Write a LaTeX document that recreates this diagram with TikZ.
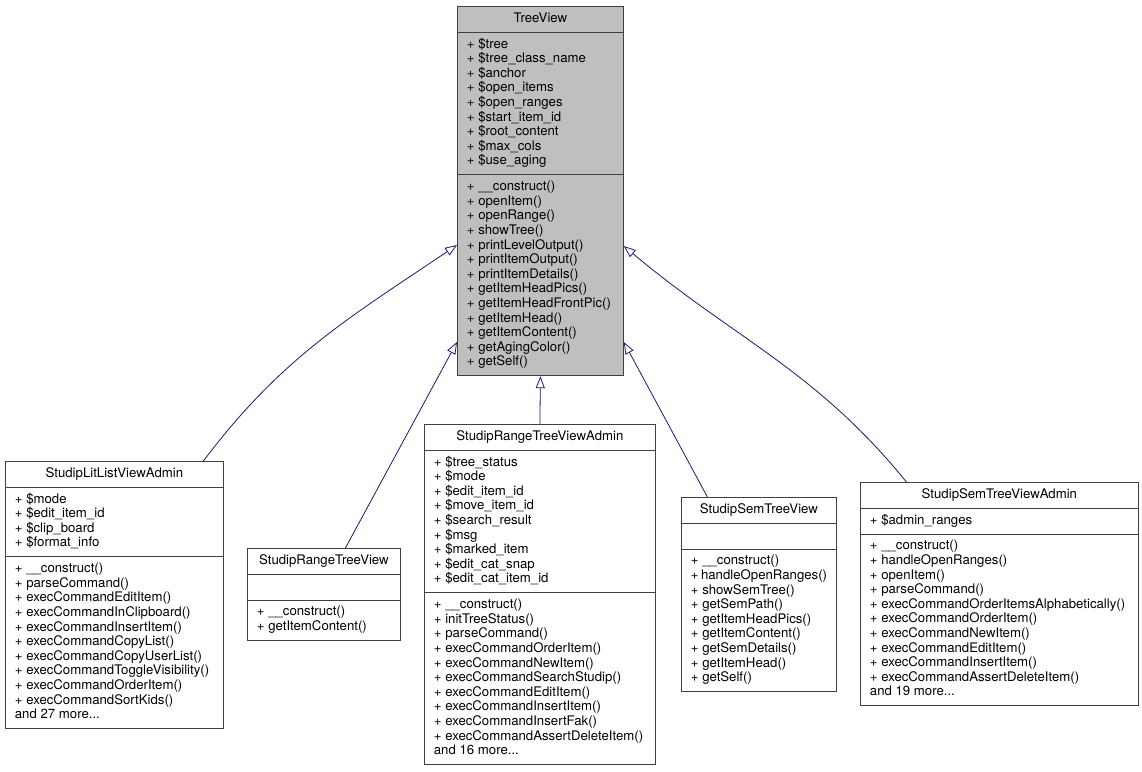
\documentclass[tikz,border=0pt]{standalone}
\usepackage{fontspec}
\setmainfont{TeX Gyre Heros}
\usetikzlibrary{shapes.multipart,arrows.meta}

\definecolor{edgeblue}{HTML}{191970}
\definecolor{basegray}{HTML}{BFBFBF}
\newcommand{\classtitle}[1]{\hbox to\hsize{\hfil\strut#1\hfil}}
\hyphenpenalty=10000
\exhyphenpenalty=10000

\begin{document}
\begin{tikzpicture}[x=1pt,y=-1pt,
        classbox/.style={rectangle split,rectangle split parts=3,draw=black!75,line width=0.8pt,
            anchor=north west,align=flush left,inner xsep=9.5pt,inner ysep=5.2pt,
            font=\fontsize{13.2}{14.6}\selectfont},
        baseclass/.style={classbox,fill=basegray},
        inherit/.style={-{Triangle[open,length=12pt,width=9pt]},draw=edgeblue,line width=0.8pt},
    ]
    \useasboundingbox (0,0) rectangle (1142,771);

    % base class
    \node[baseclass,text width=147pt] (treeview) at (457,6) {\classtitle{TreeView}
        \nodepart{two}\strut+~\$tree\\+~\$tree\_class\_name\\+~\$anchor\\+~\$open\_items\\
        +~\$open\_ranges\\+~\$start\_item\_id\\+~\$root\_content\\+~\$max\_cols\\+~\$use\_aging\strut
        \nodepart{three}\strut+~\_\_construct()\\+~openItem()\\+~openRange()\\+~showTree()\\
        +~printLevelOutput()\\+~printItemOutput()\\+~printItemDetails()\\+~getItemHeadPics()\\
        +~getItemHeadFrontPic()\\+~getItemHead()\\+~getItemContent()\\+~getAgingColor()\\+~getSelf()\strut};

    % derived classes
    \node[classbox,text width=199pt] (litlist) at (5,461) {\classtitle{StudipLitListViewAdmin}
        \nodepart{two}\strut+~\$mode\\+~\$edit\_item\_id\\+~\$clip\_board\\+~\$format\_info\strut
        \nodepart{three}\strut+~\_\_construct()\\+~parseCommand()\\+~execCommandEditItem()\\
        +~execCommandInClipboard()\\+~execCommandInsertItem()\\+~execCommandCopyList()\\
        +~execCommandCopyUserList()\\+~execCommandToggleVisibility()\\+~execCommandOrderItem()\\
        +~execCommandSortKids()\\and 27 more...\strut};

    \node[classbox,text width=134pt] (rangeview) at (247,548) {\classtitle{StudipRangeTreeView}
        \nodepart{two}\strut
        \nodepart{three}\strut+~\_\_construct()\\+~getItemContent()\strut};

    \node[classbox,text width=212pt] (rangeadmin) at (424,424) {\classtitle{StudipRangeTreeViewAdmin}
        \nodepart{two}\strut+~\$tree\_status\\+~\$mode\\+~\$edit\_item\_id\\+~\$move\_item\_id\\
        +~\$search\_result\\+~\$msg\\+~\$marked\_item\\+~\$edit\_cat\_snap\\+~\$edit\_cat\_item\_id\strut
        \nodepart{three}\strut+~\_\_construct()\\+~initTreeStatus()\\+~parseCommand()\\
        +~execCommandOrderItem()\\+~execCommandNewItem()\\+~execCommandSearchStudip()\\
        +~execCommandEditItem()\\+~execCommandInsertItem()\\+~execCommandInsertFak()\\
        +~execCommandAssertDeleteItem()\\and 16 more...\strut};

    \node[classbox,text width=136pt] (semview) at (681,497) {\classtitle{StudipSemTreeView}
        \nodepart{two}\strut
        \nodepart{three}\strut+~\_\_construct()\\+~handleOpenRanges()\\+~showSemTree()\\
        +~getSemPath()\\+~getItemHeadPics()\\+~getItemContent()\\+~getSemDetails()\\
        +~getItemHead()\\+~getSelf()\strut};

    \node[classbox,text width=259pt] (semadmin) at (860,482) {\classtitle{StudipSemTreeViewAdmin}
        \nodepart{two}\strut+~\$admin\_ranges\strut
        \nodepart{three}\strut+~\_\_construct()\\+~handleOpenRanges()\\+~openItem()\\
        +~parseCommand()\\+~execCommandOrderItemsAlphabetically()\\+~execCommandOrderItem()\\
        +~execCommandNewItem()\\+~execCommandEditItem()\\+~execCommandInsertItem()\\
        +~execCommandAssertDeleteItem()\\and 19 more...\strut};

    % inheritance
    \draw[inherit] ([xshift=89pt]litlist.north) to[out=53,in=214] ([yshift=-239pt]treeview.north west);
    \draw[inherit] ([xshift=21.5pt]rangeview.north) -- ([yshift=-336pt]treeview.north west);
    \draw[inherit] (rangeadmin.north) -- (treeview.south);
    \draw[inherit] ([xshift=-51.5pt]semview.north) -- ([yshift=-336pt]treeview.north east);
    \draw[inherit] ([xshift=-93pt]semadmin.north) to[out=129,in=-40] ([yshift=-240pt]treeview.north east);
\end{tikzpicture}
\end{document}
